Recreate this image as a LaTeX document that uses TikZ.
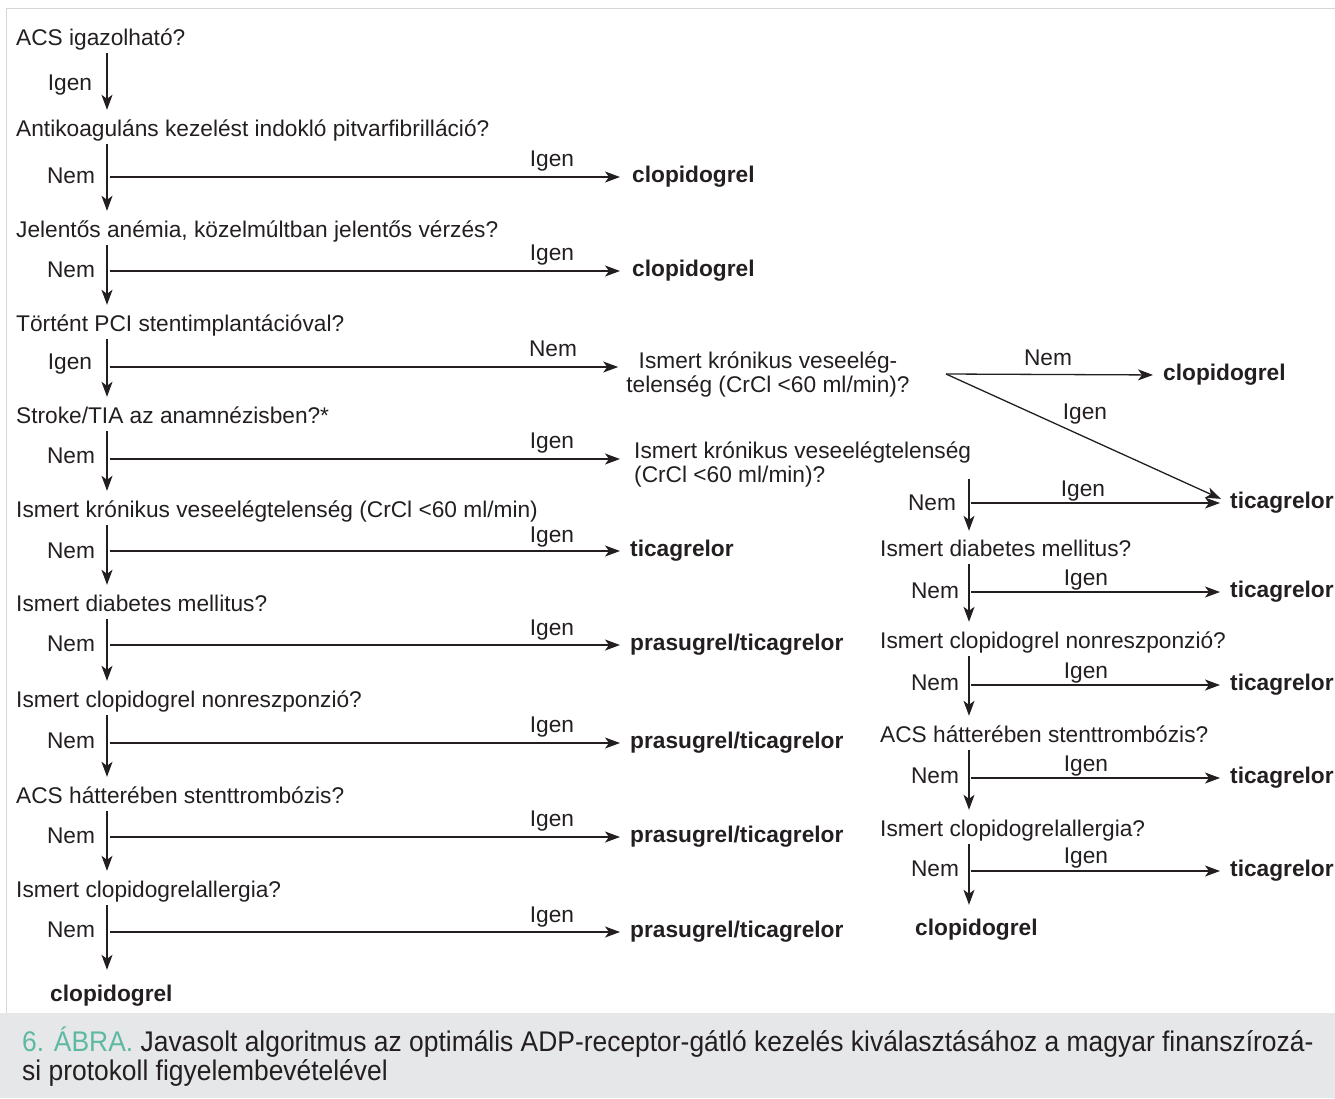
\documentclass[tikz,border=0pt]{standalone}
\usepackage{fontspec}
\setmainfont{Liberation Sans}
\newfontfamily\capfont[FakeStretch=0.93]{Liberation Sans}
\usetikzlibrary{arrows.meta,calc}
\definecolor{txt}{HTML}{231F20}
\definecolor{framec}{HTML}{D6D6D6}
\definecolor{band}{HTML}{E6E7E8}
\definecolor{tealc}{HTML}{5DB9A2}
\begin{document}
\begin{tikzpicture}[x=1pt,y=-1pt,
  every node/.style={font=\fontsize{22.7}{24.5}\selectfont, text=txt, inner sep=0pt},
  q/.style={anchor=base west, text height=18pt, text depth=6pt},
  res/.style={anchor=west, font=\fontsize{22.7}{24.5}\selectfont\bfseries},
  fin/.style={anchor=base west, text height=18pt, text depth=6pt, font=\fontsize{22.7}{24.5}\selectfont\bfseries},
  lab/.style={anchor=base},
  conn/.style={draw=txt, line width=1.3pt},
  arr/.style={conn, -{Stealth[length=15pt,width=11pt,inset=4pt]}},
  down/.style={arr, shorten <=2pt, shorten >=8pt},
]
\useasboundingbox (0,0) rectangle (1335,1098);
% frame and caption band
\fill[band] (0,1013) rectangle (1335,1098);
\draw[framec, line width=1.5pt] (6.5,1013) -- (6.5,8.5) -- (1335,8.5);
\node[anchor=base west, align=left, font=\capfont\fontsize{28.4}{29}\selectfont, text=txt] (cap) at (22,1080)
  {\textcolor{tealc}{6. ÁBRA.} Javasolt algoritmus az optimális ADP-receptor-gátló kezelés kiválasztásához a magyar finanszírozá-\\si protokoll figyelembevételével};

% spines
\coordinate (sp) at (107,0);
\coordinate (rsp) at (969,0);

% left questions
\node[q] (q1) at (16,45) {ACS igazolható?};
\node[q] (q2) at (16,136) {Antikoaguláns kezelést indokló pitvarfibrilláció?};
\node[q] (q3) at (16,237) {Jelentős anémia, közelmúltban jelentős vérzés?};
\node[q] (q4) at (16,331) {Történt PCI stentimplantációval?};
\node[q] (q5) at (16,423) {Stroke/TIA az anamnézisben?*};
\node[q] (q6) at (16,517) {Ismert krónikus veseelégtelenség (CrCl <60 ml/min)};
\node[q] (q7) at (16,611) {Ismert diabetes mellitus?};
\node[q] (q8) at (16,707) {Ismert clopidogrel nonreszponzió?};
\node[q] (q9) at (16,803) {ACS hátterében stenttrombózis?};
\node[q] (q10) at (16,897) {Ismert clopidogrelallergia?};
\node[fin] (e0) at (50,1001) {clopidogrel};

% left vertical arrows
\draw[down] (q1.south -| sp) -- (q2.north -| sp);
\draw[down] (q2.south -| sp) -- (q3.north -| sp);
\draw[down] (q3.south -| sp) -- (q4.north -| sp);
\draw[down] (q4.south -| sp) -- (q5.north -| sp);
\draw[down] (q5.south -| sp) -- (q6.north -| sp);
\draw[down] (q6.south -| sp) -- (q7.north -| sp);
\draw[down] (q7.south -| sp) -- (q8.north -| sp);
\draw[down] (q8.south -| sp) -- (q9.north -| sp);
\draw[down] (q9.south -| sp) -- (q10.north -| sp);
\draw[down, shorten >=13pt] (q10.south -| sp) -- (e0.north -| sp);

% left outcomes
\node[res] (o2) at (632,177) {clopidogrel};
\node[res] (o3) at (632,271) {clopidogrel};
\node[anchor=north, align=center] (r1) at (768,346) {\rule{0pt}{22pt}Ismert krónikus veseelég-\\telenség (CrCl <60 ml/min)?};
\node[anchor=north west, align=left] (r2) at (634,436) {\rule{0pt}{22pt}Ismert krónikus veseelégtelenség\\(CrCl <60 ml/min)?};
\node[res] (o6) at (630,551) {ticagrelor};
\node[res] (o7) at (630,645) {prasugrel/ticagrelor};
\node[res] (o8) at (630,743) {prasugrel/ticagrelor};
\node[res] (o9) at (630,837) {prasugrel/ticagrelor};
\node[res] (o10) at (630,932) {prasugrel/ticagrelor};

% left horizontal start points
\coordinate (h2) at (110,177);
\coordinate (h3) at (110,271);
\coordinate (h4) at (110,367);
\coordinate (h5) at (110,459);
\coordinate (h6) at (110,551);
\coordinate (h7) at (110,645);
\coordinate (h8) at (110,743);
\coordinate (h9) at (110,837);
\coordinate (h10) at (110,932);

\draw[arr, shorten >=12pt] (h2) -- (o2.west);
\draw[arr, shorten >=12pt] (h3) -- (o3.west);
\draw[arr, shorten >=8pt] (h4) -- (h4 -| r1.west);
\draw[arr, shorten >=14pt] (h5) -- (h5 -| r2.west);
\draw[arr, shorten >=10pt] (h6) -- (o6.west);
\draw[arr, shorten >=10pt] (h7) -- (o7.west);
\draw[arr, shorten >=10pt] (h8) -- (o8.west);
\draw[arr, shorten >=10pt] (h9) -- (o9.west);
\draw[arr, shorten >=10pt] (h10) -- (o10.west);

% left labels
\node[lab] (l1) at (70,90) {Igen};
\node[lab] (n2) at (71,183) {Nem};
\node[lab] (i2) at (552,166) {Igen};
\node[lab] (n3) at (71,277) {Nem};
\node[lab] (i3) at (552,260) {Igen};
\node[lab] (l4) at (70,369) {Igen};
\node[lab] (n4) at (553,356) {Nem};
\node[lab] (n5) at (71,463) {Nem};
\node[lab] (i5) at (552,448) {Igen};
\node[lab] (n6) at (71,558) {Nem};
\node[lab] (i6) at (552,542) {Igen};
\node[lab] (n7) at (71,651) {Nem};
\node[lab] (i7) at (552,635) {Igen};
\node[lab] (n8) at (71,748) {Nem};
\node[lab] (i8) at (552,732) {Igen};
\node[lab] (n9) at (71,843) {Nem};
\node[lab] (i9) at (552,826) {Igen};
\node[lab] (n10) at (71,937) {Nem};
\node[lab] (i10) at (552,922) {Igen};

% right part: from r1
\coordinate (r1out) at (946,374);
\node[res] (c1) at (1163,375) {clopidogrel};
\node[res] (t1) at (1230,503) {ticagrelor};
\draw[arr, shorten >=10pt] (r1out) -- (c1.west);
\draw[arr, shorten >=10pt] (r1out) -- (t1.west);
\node[lab] (rn1) at (1048,365) {Nem};
\node[lab] (ri1) at (1085,419) {Igen};

% right column
\coordinate (rs0) at (969,477);
\node[q] (s1) at (880,556) {Ismert diabetes mellitus?};
\node[q] (s2) at (880,648) {Ismert clopidogrel nonreszponzió?};
\node[q] (s3) at (880,742) {ACS hátterében stenttrombózis?};
\node[q] (s4) at (880,836) {Ismert clopidogrelallergia?};
\node[fin] (e1) at (915,935) {clopidogrel};

\draw[down, shorten >=7pt] (rs0) -- (s1.north -| rsp);
\draw[down] (s1.south -| rsp) -- (s2.north -| rsp);
\draw[down] (s2.south -| rsp) -- (s3.north -| rsp);
\draw[down] (s3.south -| rsp) -- (s4.north -| rsp);
\draw[down, shorten >=12pt] (s4.south -| rsp) -- (e1.north -| rsp);

\node[res] (t2) at (1230,592) {ticagrelor};
\node[res] (t3) at (1230,685) {ticagrelor};
\node[res] (t4) at (1230,778) {ticagrelor};
\node[res] (t5) at (1230,871) {ticagrelor};

\coordinate (g1) at (971,503);
\coordinate (g2) at (971,592);
\coordinate (g3) at (971,685);
\coordinate (g4) at (971,778);
\coordinate (g5) at (971,871);
\draw[arr, shorten >=10pt] (g1) -- (t1.west);
\draw[arr, shorten >=10pt] (g2) -- (t2.west);
\draw[arr, shorten >=10pt] (g3) -- (t3.west);
\draw[arr, shorten >=10pt] (g4) -- (t4.west);
\draw[arr, shorten >=10pt] (g5) -- (t5.west);

\node[lab] (rn2) at (932,510) {Nem};
\node[lab] (ri2) at (1083,496) {Igen};
\node[lab] (rn3) at (935,598) {Nem};
\node[lab] (ri3) at (1086,585) {Igen};
\node[lab] (rn4) at (935,690) {Nem};
\node[lab] (ri4) at (1086,678) {Igen};
\node[lab] (rn5) at (935,783) {Nem};
\node[lab] (ri5) at (1086,771) {Igen};
\node[lab] (rn6) at (935,876) {Nem};
\node[lab] (ri6) at (1086,863) {Igen};
\end{tikzpicture}
\end{document}
